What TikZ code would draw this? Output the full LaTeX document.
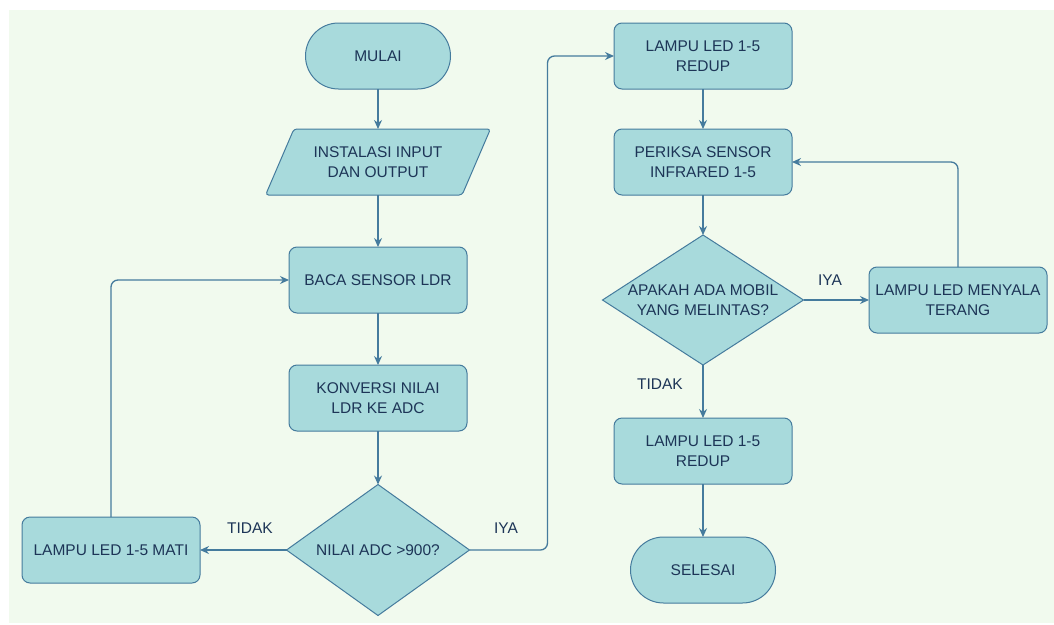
\documentclass[tikz,border=0pt]{standalone}
\usepackage{fontspec}
\setmainfont{Liberation Sans}
\usetikzlibrary{shapes.geometric,arrows.meta}

\definecolor{bgcream}{HTML}{F1FAEE}
\definecolor{boxfill}{HTML}{A8DADC}
\definecolor{boxline}{HTML}{457B9D}
\definecolor{boxtext}{HTML}{1D3557}

\tikzset{
	terminal/.style={rectangle,rounded corners=33pt,minimum width=145pt,minimum height=66pt},
	iobox/.style={trapezium,trapezium left angle=54.5,trapezium right angle=125.5,trapezium stretches=true,rounded corners=3pt,minimum width=225pt,minimum height=66pt},
	process/.style={rectangle,rounded corners=8pt,minimum width=178pt,minimum height=66pt},
	decision/.style={diamond,aspect=1.4,minimum width=183pt,minimum height=131pt},
	flowline/.style={draw=boxline,line width=1.3pt,rounded corners=7pt,-{Stealth[length=9pt,width=8pt]}}
}

\begin{document}
\begin{tikzpicture}[x=1pt,y=-1pt,font=\fontsize{15.5}{19.5}\selectfont,text=boxtext]

	\useasboundingbox (0,0) rectangle (1054,624);
	\fill[bgcream] (9,10) rectangle (1054,623);

	\begin{scope}[every node/.style={draw=boxline,fill=boxfill,line width=1pt,align=center,inner sep=0pt,outer sep=0pt}]
		% left column
		\node[terminal] (mulai) at (378,56) {MULAI};
		\node[iobox] (instal) at (378,162) {INSTALASI INPUT\\DAN OUTPUT};
		\node[process] (baca) at (378,280) {BACA SENSOR LDR};
		\node[process] (konversi) at (378,398) {KONVERSI NILAI\\LDR KE ADC};
		\node[decision] (adc) at (378,550) {NILAI ADC >900?};
		\node[process] (mati) at (111,550) {LAMPU LED 1-5 MATI};
		% right column
		\node[process] (redup) at (703,56) {LAMPU LED 1-5\\REDUP};
		\node[process] (periksa) at (703,162) {PERIKSA SENSOR\\INFRARED 1-5};
		\node[decision,inner sep=-9pt,minimum width=201pt,minimum height=130pt] (mobil) at (703,300) {APAKAH ADA MOBIL\\YANG MELINTAS?};
		\node[process] (menyala) at (958,300) {LAMPU LED MENYALA\\TERANG};
		\node[process] (redupakhir) at (703,451) {LAMPU LED 1-5\\REDUP};
		\node[terminal] (selesai) at (703,570) {SELESAI};
	\end{scope}

	\draw[flowline] (mulai) -- (instal);
	\draw[flowline] (instal) -- (baca);
	\draw[flowline] (baca) -- (konversi);
	\draw[flowline] (konversi) -- (adc);
	\draw[flowline] (adc.west) -- (mati.east);
	\draw[flowline] (mati.north) |- (baca.west);
	\draw[flowline] (adc.east) -- ++(78,0) |- (redup.west);
	\draw[flowline] (redup) -- (periksa);
	\draw[flowline] (periksa) -- (mobil);
	\draw[flowline] (mobil.east) -- (menyala.west);
	\draw[flowline] (menyala.north) |- (periksa.east);
	\draw[flowline] (mobil.south) -- (redupakhir.north);
	\draw[flowline] (redupakhir) -- (selesai);

	\node (tidakadc) at (250,528) {TIDAK};
	\node (iyaadc) at (506,528) {IYA};
	\node (iyamobil) at (830,280) {IYA};
	\node (tidakmobil) at (660,384) {TIDAK};

\end{tikzpicture}
\end{document}
